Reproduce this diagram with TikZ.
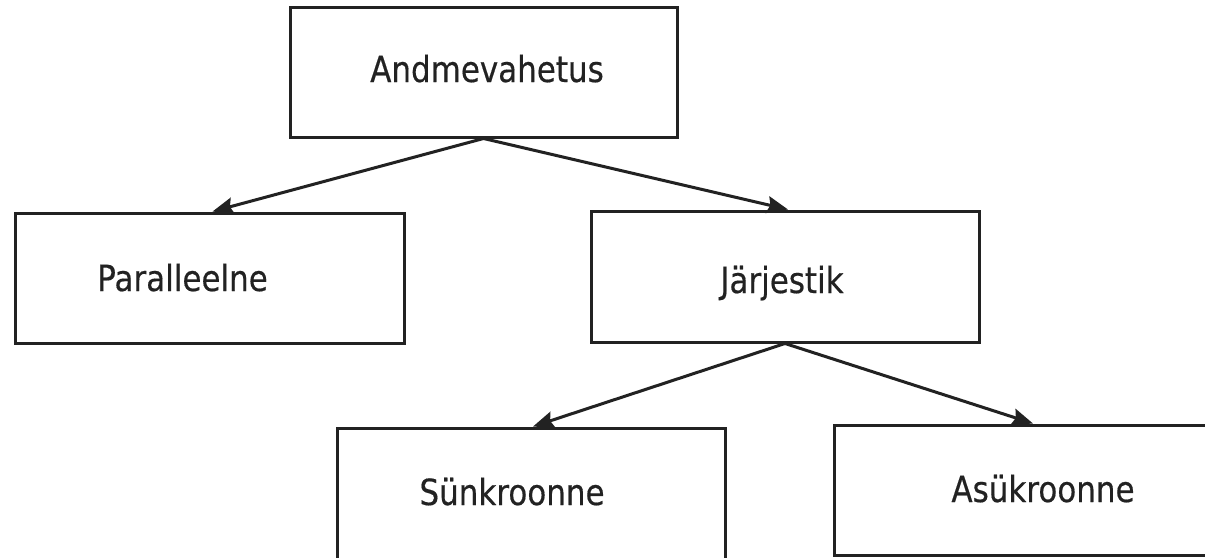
\documentclass[tikz,border=0pt]{standalone}
\usepackage{fontspec}
\setmainfont{DejaVu Sans}[FakeStretch=0.86, FakeBold=0.4]
\usetikzlibrary{arrows.meta}
\definecolor{ink}{HTML}{222222}
\tikzset{
  box/.style={draw=ink, line width=3pt, rectangle, inner sep=0pt, fill=white},
  lbl/.style={anchor=base, inner sep=0pt, text=ink, font=\fontsize{36}{40}\selectfont},
  link/.style={draw=ink, line width=3pt, -{Stealth[length=21pt, width=17pt, inset=3pt]}, shorten <=-1pt}
}
\begin{document}
\begin{tikzpicture}[x=1pt, y=-1pt]
  \useasboundingbox (0,0) rectangle (1205,557);
  \clip (0,0) rectangle (1205,557);
  \fill[white] (0,0) rectangle (1205,557);

  % boxes
  \node[box, minimum width=387pt, minimum height=130pt] (root) at (483.5,72) {};
  \node[box, minimum width=389pt, minimum height=130pt] (par) at (209.5,278) {};
  \node[box, minimum width=388pt, minimum height=131pt] (ser) at (785,276.5) {};
  \node[box, minimum width=388pt, minimum height=135pt] (sync) at (531,495.5) {};
  \node[box, minimum width=388pt, minimum height=130pt] (async) at (1028,490) {};

  % labels
  \node[lbl] (troot) at (487,82) {Andmevahetus};
  \node[lbl] (tpar) at (182.5,291) {Paralleelne};
  \node[lbl] (tser) at (782,293) {Järjestik};
  \node[lbl] (tsync) at (512,505) {Sünkroonne};
  \node[lbl] (tasync) at (1043,502) {Asükroonne};

  % connectors
  \draw[link] (root.south) -- ([xshift=3pt]par.north);
  \draw[link] (root.south) -- ([xshift=3pt]ser.north);
  \draw[link] (ser.south) -- ([xshift=2pt]sync.north);
  \draw[link] (ser.south) -- ([xshift=5pt]async.north);
\end{tikzpicture}
\end{document}
